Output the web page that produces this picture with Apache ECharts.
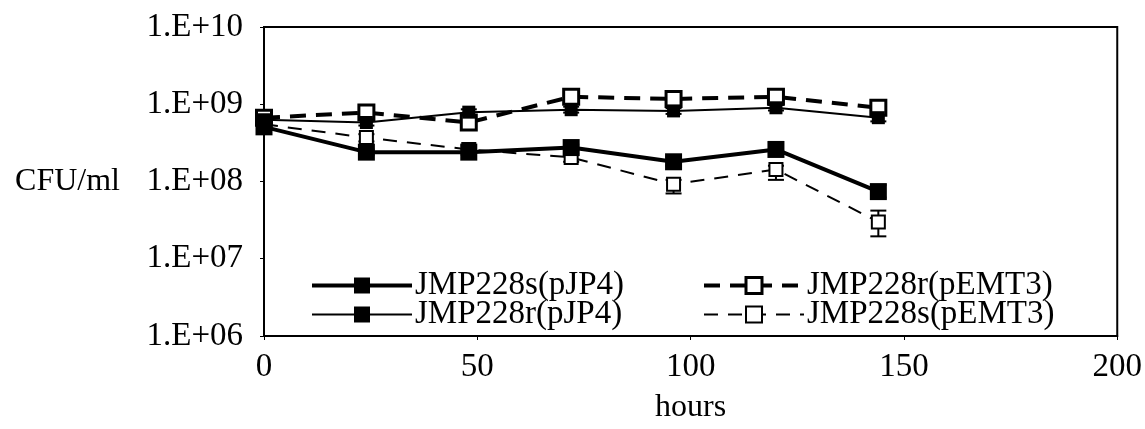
<!DOCTYPE html>
<html>
<head>
<meta charset="utf-8">
<script src="https://cdn.jsdelivr.net/npm/echarts@6/dist/echarts.min.js"></script>
<style>
  html, body { margin: 0; padding: 0; background: #fff; }
  #chart { width: 1145px; height: 429px; }
</style>
</head>
<body>
<div id="chart"></div>
<script>
// Sampling times (hours)
const hours = [0, 24, 48, 72, 96, 120, 144];

// Mean counts (CFU/ml) per strain
const sPJP4  = [5.1e8, 2.4e8, 2.4e8, 2.75e8, 1.8e8, 2.6e8, 7.4e7];
const rPJP4  = [6.3e8, 5.8e8, 7.9e8, 8.5e8, 8.2e8, 9.0e8, 6.7e8];
const rPEMT3 = [6.7e8, 7.8e8, 5.8e8, 1.25e9, 1.17e9, 1.25e9, 9.0e8];
const sPEMT3 = [5.5e8, 3.7e8, 2.6e8, 2.05e8, 9.2e7, 1.43e8, 3.0e7];

// Error bar limits (low / high)
const sPJP4Lo  = [4.6e8, 2.2e8, 2.2e8, 2.5e8, 1.6e8, 2.3e8, 6.2e7];
const sPJP4Hi  = [5.6e8, 2.6e8, 2.6e8, 3.0e8, 2.1e8, 3.2e8, 9.0e7];
const rPJP4Lo  = [5.8e8, 5.3e8, 7.2e8, 7.8e8, 7.5e8, 8.3e8, 6.0e8];
const rPJP4Hi  = [6.8e8, 6.3e8, 8.6e8, 9.3e8, 8.9e8, 9.8e8, 7.4e8];
const rPEMT3Lo = [6.1e8, 7.1e8, 5.2e8, 1.14e9, 1.05e9, 1.14e9, 8.0e8];
const rPEMT3Hi = [7.3e8, 8.5e8, 6.4e8, 1.36e9, 1.45e9, 1.38e9, 1.0e9];
const sPEMT3Lo = [5.0e8, 3.3e8, 2.3e8, 1.8e8, 7.0e7, 1.05e8, 1.95e7];
const sPEMT3Hi = [6.0e8, 4.1e8, 2.9e8, 2.3e8, 1.05e8, 1.6e8, 4.2e7];

// Axis settings
const xTicks = [0, 50, 100, 150, 200];
const yMin = 1e6, yMax = 1e10;

const names = ['JMP228s(pJP4)', 'JMP228r(pJP4)', 'JMP228r(pEMT3)', 'JMP228s(pEMT3)'];

const FONT = "'Liberation Serif', 'Times New Roman', serif";

// Per-strain line and marker styles
const lineStyles = [
  { color: '#000', width: 4, type: 'solid' },
  { color: '#000', width: 2, type: 'solid' },
  { color: '#000', width: 4, type: [16, 10] },
  { color: '#000', width: 2, type: [14, 10] }
];
const itemStyles = [
  { color: '#000', borderColor: '#000', borderWidth: 0 },
  { color: '#000', borderColor: '#000', borderWidth: 0 },
  { color: '#fff', borderColor: '#000', borderWidth: 3 },
  { color: '#fff', borderColor: '#000', borderWidth: 2 }
];
const symbolSizes = [17, 13, 15, 13];

function pairs(xs, ys) { return xs.map((x, i) => [x, ys[i]]); }
function errData(xs, lo, hi) { return xs.map((x, i) => [x, lo[i], hi[i]]); }

function errSeries(id, xs, lo, hi) {
  return {
    type: 'custom',
    name: id,
    z: 1,
    silent: true,
    encode: { x: 0, y: [1, 2] },
    data: errData(xs, lo, hi),
    renderItem: function (params, api) {
      const x = api.value(0);
      const pLo = api.coord([x, api.value(1)]);
      const pHi = api.coord([x, api.value(2)]);
      const cap = 8;
      const st = { stroke: '#000', lineWidth: 2 };
      return {
        type: 'group',
        children: [
          { type: 'line', shape: { x1: pLo[0], y1: pLo[1], x2: pHi[0], y2: pHi[1] }, style: st },
          { type: 'line', shape: { x1: pLo[0] - cap, y1: pLo[1], x2: pLo[0] + cap, y2: pLo[1] }, style: st },
          { type: 'line', shape: { x1: pHi[0] - cap, y1: pHi[1], x2: pHi[0] + cap, y2: pHi[1] }, style: st }
        ]
      };
    }
  };
}

function lineSeries(i, values, z) {
  return {
    name: names[i], type: 'line', z: z,
    data: pairs(hours, values),
    symbol: 'rect', symbolSize: symbolSizes[i],
    lineStyle: lineStyles[i],
    itemStyle: itemStyles[i]
  };
}

function legendItem(i) {
  return { name: names[i], lineStyle: lineStyles[i], itemStyle: itemStyles[i] };
}

const legendText = { fontFamily: FONT, fontSize: 33, color: '#000', padding: [0, 0, 0, -2] };

const option = {
  backgroundColor: '#fff',
  animation: false,
  grid: {
    left: 264, right: 27, top: 27, bottom: 92,
    show: true, borderColor: '#000', borderWidth: 2, backgroundColor: 'transparent'
  },
  legend: [
    {
      data: [legendItem(0), legendItem(1)],
      orient: 'vertical',
      left: 305, top: 264,
      itemWidth: 100, itemHeight: 20, itemGap: -4,
      textStyle: legendText
    },
    {
      data: [legendItem(2), legendItem(3)],
      orient: 'vertical',
      left: 697, top: 264,
      itemWidth: 100, itemHeight: 20, itemGap: -4,
      textStyle: legendText
    }
  ],
  xAxis: {
    type: 'value',
    min: xTicks[0], max: xTicks[xTicks.length - 1], interval: 50,
    name: 'hours',
    nameLocation: 'middle',
    nameGap: 56,
    nameTextStyle: { fontFamily: FONT, fontSize: 32, color: '#000' },
    axisLine: { lineStyle: { color: '#000', width: 2 } },
    axisTick: { show: true, length: 4, lineStyle: { color: '#000', width: 1 } },
    axisLabel: { fontFamily: FONT, fontSize: 33, color: '#000', margin: 15 },
    splitLine: { show: false }
  },
  yAxis: {
    type: 'log',
    logBase: 10,
    min: yMin, max: yMax,
    name: 'CFU/ml',
    nameLocation: 'middle',
    nameRotate: 0,
    nameGap: 144,
    nameTextStyle: { fontFamily: FONT, fontSize: 32, color: '#000' },
    axisLine: { lineStyle: { color: '#000', width: 2 } },
    axisTick: { show: true, length: 4, lineStyle: { color: '#000', width: 1 } },
    axisLabel: {
      fontFamily: FONT, fontSize: 33, color: '#000', margin: 21,
      formatter: function (v) {
        const e = Math.round(Math.log10(v));
        return '1.E+' + (e < 10 ? '0' + e : e);
      }
    },
    splitLine: { show: false }
  },
  series: [
    errSeries('err-s-pJP4', hours, sPJP4Lo, sPJP4Hi),
    errSeries('err-r-pJP4', hours, rPJP4Lo, rPJP4Hi),
    errSeries('err-r-pEMT3', hours, rPEMT3Lo, rPEMT3Hi),
    errSeries('err-s-pEMT3', hours, sPEMT3Lo, sPEMT3Hi),
    lineSeries(0, sPJP4, 5),
    lineSeries(1, rPJP4, 4),
    lineSeries(2, rPEMT3, 3),
    lineSeries(3, sPEMT3, 3)
  ]
};

const chart = echarts.init(document.getElementById('chart'), null, { renderer: 'canvas' });
chart.setOption(option);
</script>
</body>
</html>
